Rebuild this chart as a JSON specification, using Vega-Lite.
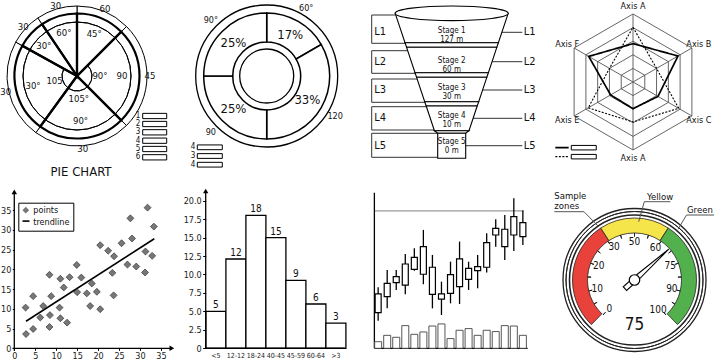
{
"$schema":"https://vega.github.io/schema/vega-lite/v6.json",
"padding":0,"spacing":0,"background":"white",
"config":{"view":{"stroke":null},"font":"'Liberation Sans Narrow', 'DejaVu Sans Condensed', 'Liberation Sans', sans-serif","concat":{"spacing":0},"text":{"color":"#111"}},
"datasets":{
"pie":[{"k":1,"v":45,"inn":"45°","out":"60","hub":""},{"k":2,"v":90,"inn":"90","out":"45","hub":"90°"},{"k":3,"v":81,"inn":"90°","out":"30","hub":"105°"},{"k":4,"v":83,"inn":"30°","out":"30","hub":"105"},{"k":5,"v":27,"inn":"30°","out":"30","hub":""},{"k":6,"v":34,"inn":"60°","out":"30","hub":""}],
"pieLeg":[{"n":"1","y":-40},{"n":"2","y":-48},{"n":"3","y":-56.3},{"n":"4","y":-64.7},{"n":"5","y":-73},{"n":"6","y":-81.3}],
"donut":[{"k":1,"v":60,"pct":"17%","out":"60°"},{"k":2,"v":120,"pct":"33%","out":"120"},{"k":3,"v":90,"pct":"25%","out":"90"},{"k":4,"v":90,"pct":"25%","out":"90°"}],
"donutLeg":[{"n":"4","y":-71.3},{"n":"3","y":-80},{"n":"4","y":-88.7}],
"funnel":[{"seg":"s1","y":13.3,"xl":-56.5,"xr":56.5},{"seg":"s1","y":42.7,"xl":-46.7,"xr":46.7},{"seg":"b1","y":42.7,"xl":-46.7,"xr":46.7},{"seg":"b1","y":47.3,"xl":-45.1,"xr":45.1},{"seg":"s2","y":47.3,"xl":-45.1,"xr":45.1},{"seg":"s2","y":72.7,"xl":-36.7,"xr":36.7},{"seg":"b2","y":72.7,"xl":-36.7,"xr":36.7},{"seg":"b2","y":77.3,"xl":-35.1,"xr":35.1},{"seg":"s3","y":77.3,"xl":-35.1,"xr":35.1},{"seg":"s3","y":101.7,"xl":-27,"xr":27},{"seg":"b3","y":101.7,"xl":-27,"xr":27},{"seg":"b3","y":106,"xl":-25.5,"xr":25.5},{"seg":"s4","y":106,"xl":-25.5,"xr":25.5},{"seg":"s4","y":130.7,"xl":-17.3,"xr":17.3},{"seg":"b4","y":130.7,"xl":-17.3,"xr":17.3},{"seg":"b4","y":133.3,"xl":-14,"xr":14},{"seg":"s5","y":133.3,"xl":-14,"xr":14},{"seg":"s5","y":158.3,"xl":-14,"xr":14}],
"levels":[{"L":"L1","y0":15,"y1":43.3,"ly":32.3},{"L":"L2","y0":50.7,"y1":73.3,"ly":61.7},{"L":"L3","y0":79,"y1":102.3,"ly":90},{"L":"L4","y0":106.7,"y1":130,"ly":118.3},{"L":"L5","y0":133.3,"y1":157.3,"ly":145.7}],
"stages":[{"t":"Stage 1\n127 m","y":31},{"t":"Stage 2\n60 m","y":60.5},{"t":"Stage 3\n30 m","y":88},{"t":"Stage 4\n10 m","y":115.5},{"t":"Stage 5\n0 m","y":142.3}],
"rings":[{"r":1},{"r":2},{"r":3},{"r":4},{"r":5}],
"radar":[{"s":"a","k":0,"v":2.82},{"s":"a","k":1,"v":3.82},{"s":"a","k":2,"v":2.12},{"s":"a","k":3,"v":1.96},{"s":"a","k":4,"v":1.9},{"s":"a","k":5,"v":3.76},{"s":"a","k":6,"v":2.82},{"s":"b","k":0,"v":4.02},{"s":"b","k":1,"v":2.0},{"s":"b","k":2,"v":3.88},{"s":"b","k":3,"v":2.94},{"s":"b","k":4,"v":3.8},{"s":"b","k":5,"v":2.0},{"s":"b","k":6,"v":4.02}],
"radarAxes":[{"k":0,"t":"Axis A"},{"k":1,"t":"Axis B"},{"k":2,"t":"Axis C"},{"k":3,"t":"Axis A"},{"k":4,"t":"Axis E"},{"k":5,"t":"Axis F"}],
"radarLeg":[{"s":"a","y":-4.83},{"s":"b","y":-5.49}],
"pts":[{"x":2.7,"y":10.3},{"x":2.8,"y":3.6},{"x":4.5,"y":13.2},{"x":4.5,"y":4.9},{"x":6.9,"y":10.7},{"x":6.2,"y":7.8},{"x":8.4,"y":18.6},{"x":8.8,"y":13.2},{"x":8.5,"y":8.4},{"x":8.4,"y":5.4},{"x":11.0,"y":17.6},{"x":11.8,"y":15.4},{"x":10.8,"y":10.3},{"x":11.0,"y":7.6},{"x":12.6,"y":6.5},{"x":13.2,"y":18.0},{"x":14.9,"y":21.1},{"x":15.0,"y":14.2},{"x":16.0,"y":17.9},{"x":17.3,"y":13.9},{"x":18.5,"y":16.4},{"x":18.1,"y":10.7},{"x":19.7,"y":14.3},{"x":20.5,"y":26.1},{"x":20.5,"y":9.9},{"x":22.4,"y":24.7},{"x":23.8,"y":23.3},{"x":23.4,"y":19.1},{"x":23.7,"y":13.4},{"x":25.6,"y":26.6},{"x":27.0,"y":21.2},{"x":27.7,"y":32.9},{"x":28.1,"y":27.8},{"x":29.1,"y":20.7},{"x":31.2,"y":19.2},{"x":31.3,"y":24.5},{"x":31.8,"y":35.6},{"x":32.9,"y":23.4},{"x":33.3,"y":30.8}],
"hist":[{"c":"<5","v":5,"lbl":"5"},{"c":"12-12","v":12.1,"lbl":"12"},{"c":"18-24","v":18,"lbl":"18"},{"c":"40-45","v":15,"lbl":"15"},{"c":"45-59","v":9.2,"lbl":"9"},{"c":"60-64","v":6,"lbl":"6"},{"c":">3","v":3.4,"lbl":"3"}],
"candles":[{"i":1,"o":41.9,"c":27.5,"h":47.0,"l":21.3,"vol":5.1},{"i":2,"o":50.1,"c":39.8,"h":60.4,"l":30.8,"vol":10.0},{"i":3,"o":55.3,"c":50.6,"h":60.4,"l":45.0,"vol":8.5},{"i":4,"o":65.0,"c":48.8,"h":72.8,"l":41.6,"vol":17.5},{"i":5,"o":70.2,"c":60.9,"h":77.1,"l":59.9,"vol":10.8},{"i":6,"o":78.4,"c":57.1,"h":91.3,"l":49.4,"vol":12.6},{"i":7,"o":62.5,"c":41.6,"h":72.0,"l":30.8,"vol":17.2},{"i":8,"o":41.9,"c":38.0,"h":51.4,"l":25.7,"vol":18.8},{"i":9,"o":56.8,"c":42.4,"h":66.8,"l":34.7,"vol":7.5},{"i":10,"o":68.9,"c":47.6,"h":82.3,"l":34.2,"vol":13.9},{"i":11,"o":61.7,"c":53.2,"h":66.8,"l":45.0,"vol":15.2},{"i":12,"o":63.0,"c":59.9,"h":72.0,"l":46.3,"vol":10.0},{"i":13,"o":81.5,"c":62.5,"h":88.7,"l":58.4,"vol":13.9},{"i":14,"o":92.5,"c":87.4,"h":99.5,"l":78.4,"vol":12.9},{"i":15,"o":91.8,"c":78.4,"h":102.8,"l":68.1,"vol":17.5},{"i":16,"o":101.5,"c":87.4,"h":115.7,"l":75.1,"vol":17.2},{"i":17,"o":96.9,"c":86.1,"h":106.2,"l":79.7,"vol":10.0}],
"zones":[{"z":"red","a0":-136,"a1":-33},{"z":"yellow","a0":-33,"a1":33},{"z":"green","a0":33,"a1":136}],
"gticks":[{"a":-138},{"a":-120.75},{"a":-103.5},{"a":-86.25},{"a":-69},{"a":-51.75},{"a":-34.5},{"a":-17.25},{"a":0},{"a":17.25},{"a":34.5},{"a":51.75},{"a":69},{"a":86.25},{"a":103.5},{"a":120.75},{"a":138}],
"glabels":[{"t":"0","a":-139},{"t":"10","a":-104},{"t":"20","a":-68},{"t":"30","a":-32},{"t":"50","a":0},{"t":"60","a":33},{"t":"75","a":68},{"t":"90","a":104},{"t":"100","a":142}],
"callTexts":[{"t":"Sample","x":-80.2,"y":84},{"t":"zones","x":-80.2,"y":74.3},{"t":"Yellow","x":12.5,"y":83.3},{"t":"Green","x":52.5,"y":70}],
"callLines":[{"x":-80.2,"y":68.3,"x2":-50.5,"y2":68.3},{"x":-50.5,"y":68.3,"x2":-35.8,"y2":53.3},{"x":9.8,"y":78.3,"x2":35.8,"y2":78.3},{"x":9.8,"y":78.3,"x2":4.2,"y2":58.3},{"x":52,"y":65,"x2":80.5,"y2":65},{"x":52,"y":65,"x2":43.5,"y2":50.7}]
},
"vconcat":[
{"hconcat":[
{"width":178,"height":180,
"layer":[
{"data":{"name":"pie"},
"transform":[{"stack":"v","groupby":[],"sort":[{"field":"k","order":"ascending"}],"as":["a0","a1"]},{"calculate":"(datum.a0+datum.a1)/2","as":"mid"}],
"layer":[
{"mark":{"type":"arc","radius":70,"fill":"white","stroke":"black","strokeWidth":1},
"encoding":{"x":{"datum":0,"type":"quantitative","scale":{"domain":[-76,102],"nice":false,"zero":false},"axis":null,"stack":null},"y":{"datum":0,"type":"quantitative","scale":{"domain":[-104,76],"nice":false,"zero":false},"axis":null,"stack":null},"theta":{"field":"a0","type":"quantitative","scale":{"domain":[0,360],"range":[0,6.28319]}},"theta2":{"field":"a1"}}},
{"mark":{"type":"arc","radius":62.5,"filled":false,"stroke":"black","strokeWidth":2.2},
"encoding":{"x":{"datum":0,"type":"quantitative","scale":{"domain":[-76,102],"nice":false,"zero":false},"axis":null,"stack":null},"y":{"datum":0,"type":"quantitative","scale":{"domain":[-104,76],"nice":false,"zero":false},"axis":null,"stack":null},"theta":{"field":"a0","type":"quantitative","scale":{"domain":[0,360],"range":[0,6.28319]}},"theta2":{"field":"a1"}}},
{"mark":{"type":"text","radius":45,"fontSize":9.5},
"encoding":{"x":{"datum":0,"type":"quantitative","scale":{"domain":[-76,102],"nice":false,"zero":false},"axis":null,"stack":null},"y":{"datum":0,"type":"quantitative","scale":{"domain":[-104,76],"nice":false,"zero":false},"axis":null,"stack":null},"theta":{"field":"mid","type":"quantitative","scale":{"domain":[0,360],"range":[0,6.28319]}},"text":{"field":"inn"}}},
{"mark":{"type":"text","radius":23,"fontSize":9.5},
"encoding":{"x":{"datum":0,"type":"quantitative","scale":{"domain":[-76,102],"nice":false,"zero":false},"axis":null,"stack":null},"y":{"datum":0,"type":"quantitative","scale":{"domain":[-104,76],"nice":false,"zero":false},"axis":null,"stack":null},"theta":{"field":"mid","type":"quantitative","scale":{"domain":[0,360],"range":[0,6.28319]}},"text":{"field":"hub"}}},
{"mark":{"type":"text","radius":73,"fontSize":9.5},
"encoding":{"x":{"datum":0,"type":"quantitative","scale":{"domain":[-76,102],"nice":false,"zero":false},"axis":null,"stack":null},"y":{"datum":0,"type":"quantitative","scale":{"domain":[-104,76],"nice":false,"zero":false},"axis":null,"stack":null},"theta":{"field":"mid","type":"quantitative","scale":{"domain":[0,360],"range":[0,6.28319]}},"text":{"field":"out"}}}
]},
{"data":{"values":[{}]},"mark":{"type":"arc","radius":54,"radius2":54,"theta":0,"theta2":6.28319,"filled":false,"stroke":"black","strokeWidth":1},
"encoding":{"x":{"datum":0,"type":"quantitative","scale":{"domain":[-76,102],"nice":false,"zero":false},"axis":null,"stack":null},"y":{"datum":0,"type":"quantitative","scale":{"domain":[-104,76],"nice":false,"zero":false},"axis":null,"stack":null}}},
{"data":{"values":[{}]},"mark":{"type":"arc","radius":15,"radius2":15,"theta":0.75,"theta2":5.2,"filled":false,"stroke":"black","strokeWidth":1},
"encoding":{"x":{"datum":0,"type":"quantitative","scale":{"domain":[-76,102],"nice":false,"zero":false},"axis":null,"stack":null},"y":{"datum":0,"type":"quantitative","scale":{"domain":[-104,76],"nice":false,"zero":false},"axis":null,"stack":null}}},
{"data":{"name":"pieLeg"},"mark":{"type":"point","shape":"M -1 -0.22 L 1 -0.22 L 1 0.22 L -1 0.22 Z","size":576,"filled":false,"stroke":"black","strokeWidth":1,"opacity":1},
"encoding":{"x":{"datum":77.7,"type":"quantitative","scale":{"domain":[-76,102],"nice":false,"zero":false},"axis":null},"y":{"field":"y","type":"quantitative","scale":{"domain":[-104,76],"nice":false,"zero":false},"axis":null}}},
{"data":{"name":"pieLeg"},"mark":{"type":"text","fontSize":8},
"encoding":{"x":{"datum":61,"type":"quantitative","scale":{"domain":[-76,102],"nice":false,"zero":false},"axis":null},"y":{"field":"y","type":"quantitative","scale":{"domain":[-104,76],"nice":false,"zero":false},"axis":null},"text":{"field":"n"}}},
{"data":{"values":[{}]},"mark":{"type":"text","text":"PIE CHART","fontSize":13},
"encoding":{"x":{"datum":4,"type":"quantitative","scale":{"domain":[-76,102],"nice":false,"zero":false},"axis":null},"y":{"datum":-96.3,"type":"quantitative","scale":{"domain":[-104,76],"nice":false,"zero":false},"axis":null}}}
]},
{"width":180,"height":180,
"layer":[
{"data":{"values":[{}]},"mark":{"type":"arc","radius":71,"radius2":71,"theta":0,"theta2":6.28319,"filled":false,"stroke":"black","strokeWidth":1.3},
"encoding":{"x":{"datum":0,"type":"quantitative","scale":{"domain":[-87.7,92.3],"nice":false,"zero":false},"axis":null,"stack":null},"y":{"datum":0,"type":"quantitative","scale":{"domain":[-104,76],"nice":false,"zero":false},"axis":null,"stack":null}}},
{"data":{"name":"donut"},
"transform":[{"stack":"v","groupby":[],"sort":[{"field":"k","order":"ascending"}],"as":["a0","a1"]},{"calculate":"(datum.a0+datum.a1)/2","as":"mid"}],
"layer":[
{"mark":{"type":"arc","radius":63,"radius2":34,"fill":"white","stroke":"black","strokeWidth":1.5},
"encoding":{"x":{"datum":0,"type":"quantitative","scale":{"domain":[-87.7,92.3],"nice":false,"zero":false},"axis":null,"stack":null},"y":{"datum":0,"type":"quantitative","scale":{"domain":[-104,76],"nice":false,"zero":false},"axis":null,"stack":null},"theta":{"field":"a0","type":"quantitative","scale":{"domain":[0,360],"range":[0,6.28319]}},"theta2":{"field":"a1"}}},
{"mark":{"type":"text","radius":47,"fontSize":13},
"encoding":{"x":{"datum":0,"type":"quantitative","scale":{"domain":[-87.7,92.3],"nice":false,"zero":false},"axis":null,"stack":null},"y":{"datum":0,"type":"quantitative","scale":{"domain":[-104,76],"nice":false,"zero":false},"axis":null,"stack":null},"theta":{"field":"mid","type":"quantitative","scale":{"domain":[0,360],"range":[0,6.28319]}},"text":{"field":"pct"}}},
{"mark":{"type":"text","radius":79,"fontSize":9},
"encoding":{"x":{"datum":0,"type":"quantitative","scale":{"domain":[-87.7,92.3],"nice":false,"zero":false},"axis":null,"stack":null},"y":{"datum":0,"type":"quantitative","scale":{"domain":[-104,76],"nice":false,"zero":false},"axis":null,"stack":null},"theta":{"field":"mid","type":"quantitative","scale":{"domain":[0,360],"range":[0,6.28319]}},"text":{"field":"out"}}}
]},
{"data":{"values":[{}]},"mark":{"type":"arc","radius":27,"radius2":27,"theta":0,"theta2":6.28319,"filled":false,"stroke":"black","strokeWidth":1.3},
"encoding":{"x":{"datum":0,"type":"quantitative","scale":{"domain":[-87.7,92.3],"nice":false,"zero":false},"axis":null,"stack":null},"y":{"datum":0,"type":"quantitative","scale":{"domain":[-104,76],"nice":false,"zero":false},"axis":null,"stack":null}}},
{"data":{"name":"donutLeg"},"mark":{"type":"point","shape":"M -1 -0.19 L 1 -0.19 L 1 0.19 L -1 0.19 Z","size":625,"filled":false,"stroke":"black","strokeWidth":1,"opacity":1},
"encoding":{"x":{"datum":-56.9,"type":"quantitative","scale":{"domain":[-87.7,92.3],"nice":false,"zero":false},"axis":null},"y":{"field":"y","type":"quantitative","scale":{"domain":[-104,76],"nice":false,"zero":false},"axis":null}}},
{"data":{"name":"donutLeg"},"mark":{"type":"text","fontSize":8},
"encoding":{"x":{"datum":-73.7,"type":"quantitative","scale":{"domain":[-87.7,92.3],"nice":false,"zero":false},"axis":null},"y":{"field":"y","type":"quantitative","scale":{"domain":[-104,76],"nice":false,"zero":false},"axis":null},"text":{"field":"n"}}}
]},
{"width":178,"height":180,
"layer":[
{"data":{"name":"levels"},"mark":{"type":"rule","color":"#333","strokeWidth":1},
"encoding":{"x":{"datum":-80,"type":"quantitative","scale":{"domain":[-92.7,85.3],"nice":false,"zero":false},"axis":null},"x2":{"datum":0},"y":{"field":"y0","type":"quantitative","scale":{"domain":[0,180],"reverse":true,"nice":false,"zero":false},"axis":null}}},
{"data":{"name":"levels"},"mark":{"type":"rule","color":"#333","strokeWidth":1},
"encoding":{"x":{"datum":-80,"type":"quantitative","scale":{"domain":[-92.7,85.3],"nice":false,"zero":false},"axis":null},"x2":{"datum":0},"y":{"field":"y1","type":"quantitative","scale":{"domain":[0,180],"reverse":true,"nice":false,"zero":false},"axis":null}}},
{"data":{"name":"levels"},"mark":{"type":"rule","color":"#333","strokeWidth":1},
"encoding":{"x":{"datum":-80,"type":"quantitative","scale":{"domain":[-92.7,85.3],"nice":false,"zero":false},"axis":null},"y":{"field":"y0","type":"quantitative","scale":{"domain":[0,180],"reverse":true,"nice":false,"zero":false},"axis":null},"y2":{"field":"y1"}}},
{"data":{"name":"levels"},"mark":{"type":"rule","color":"#333","strokeWidth":1},
"encoding":{"x":{"datum":0,"type":"quantitative","scale":{"domain":[-92.7,85.3],"nice":false,"zero":false},"axis":null},"x2":{"datum":70.6},"y":{"field":"ly","type":"quantitative","scale":{"domain":[0,180],"reverse":true,"nice":false,"zero":false},"axis":null}}},
{"data":{"name":"funnel"},"mark":{"type":"area","orient":"horizontal","fill":"white","stroke":"black","strokeWidth":1.1,"opacity":1,"fillOpacity":1},
"encoding":{"y":{"field":"y","type":"quantitative","scale":{"domain":[0,180],"reverse":true,"nice":false,"zero":false},"axis":null},"x":{"field":"xl","type":"quantitative","scale":{"domain":[-92.7,85.3],"nice":false,"zero":false},"axis":null,"stack":null},"x2":{"field":"xr"},"detail":{"field":"seg"}}},
{"data":{"values":[{}]},"mark":{"type":"point","shape":"M -1 0 C -1 -0.0718 -0.5523 -0.13 0 -0.13 C 0.5523 -0.13 1 -0.0718 1 0 C 1 0.0718 0.5523 0.13 0 0.13 C -0.5523 0.13 -1 0.0718 -1 0 Z","size":12769,"filled":true,"fill":"white","stroke":"black","strokeWidth":1.1,"opacity":1},
"encoding":{"x":{"datum":0,"type":"quantitative","scale":{"domain":[-92.7,85.3],"nice":false,"zero":false},"axis":null},"y":{"datum":13.3,"type":"quantitative","scale":{"domain":[0,180],"reverse":true,"nice":false,"zero":false},"axis":null}}},
{"data":{"name":"stages"},"mark":{"type":"text","fontSize":8,"lineBreak":"\n","lineHeight":9},
"encoding":{"x":{"datum":0,"type":"quantitative","scale":{"domain":[-92.7,85.3],"nice":false,"zero":false},"axis":null},"y":{"field":"y","type":"quantitative","scale":{"domain":[0,180],"reverse":true,"nice":false,"zero":false},"axis":null},"text":{"field":"t"}}},
{"data":{"name":"levels"},"mark":{"type":"text","fontSize":11,"align":"left"},
"encoding":{"x":{"datum":-77.5,"type":"quantitative","scale":{"domain":[-92.7,85.3],"nice":false,"zero":false},"axis":null},"y":{"field":"ly","type":"quantitative","scale":{"domain":[0,180],"reverse":true,"nice":false,"zero":false},"axis":null},"text":{"field":"L"}}},
{"data":{"name":"levels"},"mark":{"type":"text","fontSize":11,"align":"left"},
"encoding":{"x":{"datum":72,"type":"quantitative","scale":{"domain":[-92.7,85.3],"nice":false,"zero":false},"axis":null},"y":{"field":"ly","type":"quantitative","scale":{"domain":[0,180],"reverse":true,"nice":false,"zero":false},"axis":null},"text":{"field":"L"}}}
]},
{"width":178,"height":180,
"layer":[
{"data":{"name":"rings"},"mark":{"type":"point","shape":"M 0 -1 L 0.866 -0.5 L 0.866 0.5 L 0 1 L -0.866 0.5 L -0.866 -0.5 Z","filled":false,"stroke":"#555","strokeWidth":0.9,"opacity":1},
"encoding":{"x":{"datum":0,"type":"quantitative","scale":{"domain":[-7.059,6.029],"nice":false,"zero":false},"axis":null},"y":{"datum":0,"type":"quantitative","scale":{"domain":[-7.206,6.029],"nice":false,"zero":false},"axis":null},"size":{"field":"r","type":"quantitative","scale":{"type":"pow","exponent":2,"domain":[0,5],"range":[0,18496]},"legend":null}}},
{"data":{"values":[{}]},"mark":{"type":"point","shape":"M 0 -1 L 0 1 M -0.866 -0.5 L 0.866 0.5 M -0.866 0.5 L 0.866 -0.5","size":18496,"filled":false,"stroke":"#555","strokeWidth":0.9,"opacity":1},
"encoding":{"x":{"datum":0,"type":"quantitative","scale":{"domain":[-7.059,6.029],"nice":false,"zero":false},"axis":null},"y":{"datum":0,"type":"quantitative","scale":{"domain":[-7.206,6.029],"nice":false,"zero":false},"axis":null}}},
{"data":{"name":"radar"},"transform":[{"calculate":"datum.v*sin(datum.k*PI/3)","as":"px"},{"calculate":"datum.v*cos(datum.k*PI/3)","as":"py"}],
"mark":{"type":"line","color":"black"},
"encoding":{"x":{"field":"px","type":"quantitative","scale":{"domain":[-7.059,6.029],"nice":false,"zero":false},"axis":null},"y":{"field":"py","type":"quantitative","scale":{"domain":[-7.206,6.029],"nice":false,"zero":false},"axis":null},"order":{"field":"k"},"detail":{"field":"s"},"strokeDash":{"field":"s","type":"nominal","scale":{"domain":["a","b"],"range":[[1,0],[2,1.5]]},"legend":null},"strokeWidth":{"field":"s","type":"ordinal","scale":{"domain":["a","b"],"range":[1.7,1.1]},"legend":null}}},
{"data":{"name":"radarAxes"},"mark":{"type":"text","radius":76,"fontSize":9},
"encoding":{"x":{"datum":0,"type":"quantitative","scale":{"domain":[-7.059,6.029],"nice":false,"zero":false},"axis":null,"stack":null},"y":{"datum":0,"type":"quantitative","scale":{"domain":[-7.206,6.029],"nice":false,"zero":false},"axis":null,"stack":null},"theta":{"field":"k","type":"quantitative","scale":{"domain":[0,6],"range":[0,6.28319]}},"text":{"field":"t"}}},
{"data":{"name":"radarLeg"},"mark":{"type":"rule","color":"black"},
"encoding":{"x":{"datum":-5.71,"type":"quantitative","scale":{"domain":[-7.059,6.029],"nice":false,"zero":false},"axis":null},"x2":{"datum":-4.73},"y":{"field":"y","type":"quantitative","scale":{"domain":[-7.206,6.029],"nice":false,"zero":false},"axis":null},"strokeDash":{"field":"s","type":"nominal","scale":{"domain":["a","b"],"range":[[1,0],[2,1.5]]},"legend":null},"strokeWidth":{"field":"s","type":"ordinal","scale":{"domain":["a","b"],"range":[1.7,1.1]},"legend":null}}},
{"data":{"name":"radarLeg"},"mark":{"type":"point","shape":"M -1 -0.18 L 1 -0.18 L 1 0.18 L -1 0.18 Z","size":625,"filled":false,"stroke":"black","strokeWidth":1,"opacity":1},
"encoding":{"x":{"datum":-3.62,"type":"quantitative","scale":{"domain":[-7.059,6.029],"nice":false,"zero":false},"axis":null},"y":{"field":"y","type":"quantitative","scale":{"domain":[-7.206,6.029],"nice":false,"zero":false},"axis":null}}}
]}
],"spacing":0,"bounds":"flush"},
{"hconcat":[
{"width":178,"height":180,
"layer":[
{"data":{"values":[{}]},"mark":{"type":"rule","color":"black","strokeWidth":1.3},
"encoding":{"x":{"datum":0,"type":"quantitative","scale":{"domain":[-3.17,39.3],"nice":false,"zero":false},"axis":{"orient":"bottom","offset":-11.7,"values":[0,5,10,15,20,25,30,35],"domain":false,"grid":false,"tickSize":2,"tickColor":"black","labelPadding":1,"labelFontSize":9,"labelColor":"#222","title":null,"labelFlush":false}},"y":{"datum":-0.6,"type":"quantitative","scale":{"domain":[-2.96,42.6],"nice":false,"zero":false},"axis":{"orient":"left","offset":-13.3,"values":[0,5,10,15,20,25,30,35],"domain":false,"grid":false,"tickSize":2,"tickColor":"black","labelPadding":1.5,"labelFontSize":9,"labelColor":"#222","title":null,"labelFlush":false}},"y2":{"datum":39.3}}},
{"data":{"values":[{}]},"mark":{"type":"rule","color":"black","strokeWidth":1.3},
"encoding":{"x":{"datum":-0.4,"type":"quantitative","scale":{"domain":[-3.17,39.3],"nice":false,"zero":false},"axis":{"orient":"bottom","offset":-11.7,"values":[0,5,10,15,20,25,30,35],"domain":false,"grid":false,"tickSize":2,"tickColor":"black","labelPadding":1,"labelFontSize":9,"labelColor":"#222","title":null,"labelFlush":false}},"x2":{"datum":37.2},"y":{"datum":0,"type":"quantitative","scale":{"domain":[-2.96,42.6],"nice":false,"zero":false},"axis":{"orient":"left","offset":-13.3,"values":[0,5,10,15,20,25,30,35],"domain":false,"grid":false,"tickSize":2,"tickColor":"black","labelPadding":1.5,"labelFontSize":9,"labelColor":"#222","title":null,"labelFlush":false}}}},
{"data":{"values":[{}]},"mark":{"type":"point","shape":"triangle-up","size":30,"filled":true,"color":"black","opacity":1},
"encoding":{"x":{"datum":0,"type":"quantitative","scale":{"domain":[-3.17,39.3],"nice":false,"zero":false},"axis":{"orient":"bottom","offset":-11.7,"values":[0,5,10,15,20,25,30,35],"domain":false,"grid":false,"tickSize":2,"tickColor":"black","labelPadding":1,"labelFontSize":9,"labelColor":"#222","title":null,"labelFlush":false}},"y":{"datum":39.6,"type":"quantitative","scale":{"domain":[-2.96,42.6],"nice":false,"zero":false},"axis":{"orient":"left","offset":-13.3,"values":[0,5,10,15,20,25,30,35],"domain":false,"grid":false,"tickSize":2,"tickColor":"black","labelPadding":1.5,"labelFontSize":9,"labelColor":"#222","title":null,"labelFlush":false}}}},
{"data":{"values":[{}]},"mark":{"type":"point","shape":"triangle-right","size":30,"filled":true,"color":"black","opacity":1},
"encoding":{"x":{"datum":37.6,"type":"quantitative","scale":{"domain":[-3.17,39.3],"nice":false,"zero":false},"axis":{"orient":"bottom","offset":-11.7,"values":[0,5,10,15,20,25,30,35],"domain":false,"grid":false,"tickSize":2,"tickColor":"black","labelPadding":1,"labelFontSize":9,"labelColor":"#222","title":null,"labelFlush":false}},"y":{"datum":0,"type":"quantitative","scale":{"domain":[-2.96,42.6],"nice":false,"zero":false},"axis":{"orient":"left","offset":-13.3,"values":[0,5,10,15,20,25,30,35],"domain":false,"grid":false,"tickSize":2,"tickColor":"black","labelPadding":1.5,"labelFontSize":9,"labelColor":"#222","title":null,"labelFlush":false}}}},
{"data":{"name":"pts"},"transform":[{"regression":"y","on":"x","extent":[2.8,33.4]}],"mark":{"type":"line","color":"black","strokeWidth":1.6},
"encoding":{"x":{"field":"x","type":"quantitative","scale":{"domain":[-3.17,39.3],"nice":false,"zero":false},"axis":{"orient":"bottom","offset":-11.7,"values":[0,5,10,15,20,25,30,35],"domain":false,"grid":false,"tickSize":2,"tickColor":"black","labelPadding":1,"labelFontSize":9,"labelColor":"#222","title":null,"labelFlush":false}},"y":{"field":"y","type":"quantitative","scale":{"domain":[-2.96,42.6],"nice":false,"zero":false},"axis":{"orient":"left","offset":-13.3,"values":[0,5,10,15,20,25,30,35],"domain":false,"grid":false,"tickSize":2,"tickColor":"black","labelPadding":1.5,"labelFontSize":9,"labelColor":"#222","title":null,"labelFlush":false}}}},
{"data":{"name":"pts"},"mark":{"type":"point","filled":true,"fill":"#777","stroke":"#333","strokeWidth":0.7,"size":48,"opacity":1},
"encoding":{"x":{"field":"x","type":"quantitative","scale":{"domain":[-3.17,39.3],"nice":false,"zero":false},"axis":{"orient":"bottom","offset":-11.7,"values":[0,5,10,15,20,25,30,35],"domain":false,"grid":false,"tickSize":2,"tickColor":"black","labelPadding":1,"labelFontSize":9,"labelColor":"#222","title":null,"labelFlush":false}},
"y":{"field":"y","type":"quantitative","scale":{"domain":[-2.96,42.6],"nice":false,"zero":false},"axis":{"orient":"left","offset":-13.3,"values":[0,5,10,15,20,25,30,35],"domain":false,"grid":false,"tickSize":2,"tickColor":"black","labelPadding":1.5,"labelFontSize":9,"labelColor":"#222","title":null,"labelFlush":false}},
"shape":{"datum":"points","type":"nominal","scale":{"domain":["points","trendline"],"range":["diamond","stroke"]},"legend":{"orient":"none","legendX":17.3,"legendY":202.7,"title":null,"strokeColor":"black","padding":3,"rowPadding":1,"labelFontSize":9,"labelColor":"#111","symbolSize":45,"symbolFillColor":"#777","symbolStrokeColor":"#222","symbolStrokeWidth":1.3,"labelOffset":3}}}},
{"data":{"values":[{}]},"mark":{"type":"rule","color":"black","strokeWidth":1.6},
"encoding":{"x":{"datum":1.96,"type":"quantitative","scale":{"domain":[-3.17,39.3],"nice":false,"zero":false},"axis":{"orient":"bottom","offset":-11.7,"values":[0,5,10,15,20,25,30,35],"domain":false,"grid":false,"tickSize":2,"tickColor":"black","labelPadding":1,"labelFontSize":9,"labelColor":"#222","title":null,"labelFlush":false}},"x2":{"datum":3.63},"y":{"datum":32.2,"type":"quantitative","scale":{"domain":[-2.96,42.6],"nice":false,"zero":false},"axis":{"orient":"left","offset":-13.3,"values":[0,5,10,15,20,25,30,35],"domain":false,"grid":false,"tickSize":2,"tickColor":"black","labelPadding":1.5,"labelFontSize":9,"labelColor":"#222","title":null,"labelFlush":false}}}}
]},
{"width":180,"height":180,
"resolve":{"scale":{"x":"independent"}},
"layer":[
{"data":{"name":"hist"},"mark":{"type":"bar","fill":"white","stroke":"black","strokeWidth":1.3},
"encoding":{"x":{"field":"c","type":"nominal","sort":null,"scale":{"type":"band","domain":["<5","12-12","18-24","40-45","45-59","60-64",">3"],"paddingInner":0,"paddingOuter":1.118,"align":0.6725},"axis":{"orient":"bottom","offset":-11.7,"domain":false,"ticks":false,"labelPadding":3,"labelFontSize":7,"labelAngle":0,"title":null,"labelColor":"#222","labelOverlap":false,"grid":false}},
"y":{"field":"v","type":"quantitative","scale":{"domain":[-1.585,22.8],"nice":false,"zero":false},"axis":{"orient":"left","offset":-26.7,"values":[0,2.5,5,7.5,10,12.5,15,17.5,20],"labelExpr":"datum.value == 0 ? '0' : format(datum.value, '.1f')","domain":false,"grid":false,"tickSize":3,"tickColor":"black","labelPadding":1.5,"labelFontSize":9,"title":null,"labelColor":"#222"}}}},
{"data":{"name":"hist"},"mark":{"type":"text","dy":-6,"fontSize":10},
"encoding":{"x":{"field":"c","type":"nominal","sort":null,"scale":{"type":"band","domain":["<5","12-12","18-24","40-45","45-59","60-64",">3"],"paddingInner":0,"paddingOuter":1.118,"align":0.6725},"axis":null},
"y":{"field":"v","type":"quantitative","scale":{"domain":[-1.585,22.8],"nice":false,"zero":false},"axis":{"orient":"left","offset":-26.7,"values":[0,2.5,5,7.5,10,12.5,15,17.5,20],"labelExpr":"datum.value == 0 ? '0' : format(datum.value, '.1f')","domain":false,"grid":false,"tickSize":3,"tickColor":"black","labelPadding":1.5,"labelFontSize":9,"title":null,"labelColor":"#222"}},"text":{"field":"lbl"}}},
{"data":{"values":[{}]},"mark":{"type":"rule","color":"black","strokeWidth":1.3},
"encoding":{"x":{"datum":-0.133,"type":"quantitative","scale":{"domain":[-1.503,7.732],"nice":false,"zero":false},"axis":null},"y":{"datum":0,"type":"quantitative","scale":{"domain":[-1.585,22.8],"nice":false,"zero":false},"axis":{"orient":"left","offset":-26.7,"values":[0,2.5,5,7.5,10,12.5,15,17.5,20],"labelExpr":"datum.value == 0 ? '0' : format(datum.value, '.1f')","domain":false,"grid":false,"tickSize":3,"tickColor":"black","labelPadding":1.5,"labelFontSize":9,"title":null,"labelColor":"#222"}},"y2":{"datum":21.04}}},
{"data":{"values":[{}]},"mark":{"type":"rule","color":"black","strokeWidth":1.4},
"encoding":{"x":{"datum":-0.133,"type":"quantitative","scale":{"domain":[-1.503,7.732],"nice":false,"zero":false},"axis":null},"x2":{"datum":7},"y":{"datum":0,"type":"quantitative","scale":{"domain":[-1.585,22.8],"nice":false,"zero":false},"axis":{"orient":"left","offset":-26.7,"values":[0,2.5,5,7.5,10,12.5,15,17.5,20],"labelExpr":"datum.value == 0 ? '0' : format(datum.value, '.1f')","domain":false,"grid":false,"tickSize":3,"tickColor":"black","labelPadding":1.5,"labelFontSize":9,"title":null,"labelColor":"#222"}}}},
{"data":{"values":[{}]},"mark":{"type":"point","shape":"triangle-up","size":28,"filled":true,"color":"black","opacity":1},
"encoding":{"x":{"datum":-0.133,"type":"quantitative","scale":{"domain":[-1.503,7.732],"nice":false,"zero":false},"axis":null},"y":{"datum":21.3,"type":"quantitative","scale":{"domain":[-1.585,22.8],"nice":false,"zero":false},"axis":{"orient":"left","offset":-26.7,"values":[0,2.5,5,7.5,10,12.5,15,17.5,20],"labelExpr":"datum.value == 0 ? '0' : format(datum.value, '.1f')","domain":false,"grid":false,"tickSize":3,"tickColor":"black","labelPadding":1.5,"labelFontSize":9,"title":null,"labelColor":"#222"}}}}
]},
{"width":178,"height":180,
"layer":[
{"data":{"values":[{}]},"mark":{"type":"rule","color":"#999","strokeWidth":1.2},
"encoding":{"x":{"datum":0.583,"type":"quantitative","scale":{"domain":[-0.565,18.01],"nice":false,"zero":false},"axis":null},"x2":{"datum":17.1},"y":{"datum":106,"type":"quantitative","scale":{"domain":[-9.02,129.8],"nice":false,"zero":false},"axis":null}}},
{"data":{"values":[{}]},"mark":{"type":"rule","color":"black","strokeWidth":1.3},
"encoding":{"x":{"datum":0.583,"type":"quantitative","scale":{"domain":[-0.565,18.01],"nice":false,"zero":false},"axis":null},"y":{"datum":0,"type":"quantitative","scale":{"domain":[-9.02,129.8],"nice":false,"zero":false},"axis":null},"y2":{"datum":120}}},
{"data":{"values":[{}]},"mark":{"type":"rule","color":"black","strokeWidth":1.3},
"encoding":{"x":{"datum":0.583,"type":"quantitative","scale":{"domain":[-0.565,18.01],"nice":false,"zero":false},"axis":null},"x2":{"datum":17.52},"y":{"datum":0,"type":"quantitative","scale":{"domain":[-9.02,129.8],"nice":false,"zero":false},"axis":null}}},
{"data":{"name":"candles"},"mark":{"type":"bar","width":7,"fill":"white","stroke":"#444","strokeWidth":0.9},
"encoding":{"x":{"field":"i","type":"quantitative","scale":{"domain":[-0.565,18.01],"nice":false,"zero":false},"axis":null},"y":{"field":"vol","type":"quantitative","scale":{"domain":[-9.02,129.8],"nice":false,"zero":false},"axis":null},"y2":{"datum":0}}},
{"data":{"name":"candles"},"mark":{"type":"rule","color":"black","strokeWidth":1.3},
"encoding":{"x":{"field":"i","type":"quantitative","scale":{"domain":[-0.565,18.01],"nice":false,"zero":false},"axis":null},"y":{"field":"l","type":"quantitative","scale":{"domain":[-9.02,129.8],"nice":false,"zero":false},"axis":null},"y2":{"field":"h"}}},
{"data":{"name":"candles"},"mark":{"type":"bar","width":6,"fill":"white","stroke":"black","strokeWidth":1.2},
"encoding":{"x":{"field":"i","type":"quantitative","scale":{"domain":[-0.565,18.01],"nice":false,"zero":false},"axis":null},"y":{"field":"o","type":"quantitative","scale":{"domain":[-9.02,129.8],"nice":false,"zero":false},"axis":null},"y2":{"field":"c"}}}
]},
{"width":178,"height":180,
"layer":[
{"data":{"values":[{}]},"mark":{"type":"arc","radius":71.5,"radius2":71.5,"theta":0,"theta2":6.28319,"filled":false,"stroke":"#222","strokeWidth":1.3},
"encoding":{"x":{"datum":0,"type":"quantitative","scale":{"domain":[-97.5,80.5],"nice":false,"zero":false},"axis":null,"stack":null},"y":{"datum":0,"type":"quantitative","scale":{"domain":[-80,100],"nice":false,"zero":false},"axis":null,"stack":null}}},
{"data":{"values":[{}]},"mark":{"type":"arc","radius":68.5,"radius2":68.5,"theta":0,"theta2":6.28319,"filled":false,"stroke":"#222","strokeWidth":1},
"encoding":{"x":{"datum":0,"type":"quantitative","scale":{"domain":[-97.5,80.5],"nice":false,"zero":false},"axis":null,"stack":null},"y":{"datum":0,"type":"quantitative","scale":{"domain":[-80,100],"nice":false,"zero":false},"axis":null,"stack":null}}},
{"data":{"values":[{}]},"mark":{"type":"arc","radius":65,"radius2":65,"theta":0,"theta2":6.28319,"filled":false,"stroke":"#222","strokeWidth":1.6},
"encoding":{"x":{"datum":0,"type":"quantitative","scale":{"domain":[-97.5,80.5],"nice":false,"zero":false},"axis":null,"stack":null},"y":{"datum":0,"type":"quantitative","scale":{"domain":[-80,100],"nice":false,"zero":false},"axis":null,"stack":null}}},
{"data":{"name":"zones"},"mark":{"type":"arc","radius":62,"radius2":47,"stroke":"#222","strokeWidth":0.8,"opacity":1},
"encoding":{"x":{"datum":0,"type":"quantitative","scale":{"domain":[-97.5,80.5],"nice":false,"zero":false},"axis":null,"stack":null},"y":{"datum":0,"type":"quantitative","scale":{"domain":[-80,100],"nice":false,"zero":false},"axis":null,"stack":null},"theta":{"field":"a0","type":"quantitative","scale":{"domain":[0,360],"range":[0,6.28319]}},"theta2":{"field":"a1"},"fill":{"field":"z","type":"nominal","scale":{"domain":["red","yellow","green"],"range":["#e8423a","#f6e54a","#53b14d"]},"legend":null}}},
{"data":{"name":"gticks"},"mark":{"type":"arc","radius":47,"radius2":43.5,"filled":false,"stroke":"#222","strokeWidth":1},
"encoding":{"x":{"datum":0,"type":"quantitative","scale":{"domain":[-97.5,80.5],"nice":false,"zero":false},"axis":null,"stack":null},"y":{"datum":0,"type":"quantitative","scale":{"domain":[-80,100],"nice":false,"zero":false},"axis":null,"stack":null},"theta":{"field":"a","type":"quantitative","scale":{"domain":[0,360],"range":[0,6.28319]}},"theta2":{"field":"a"}}},
{"data":{"name":"glabels"},"mark":{"type":"text","radius":38.5,"fontSize":10},
"encoding":{"x":{"datum":0,"type":"quantitative","scale":{"domain":[-97.5,80.5],"nice":false,"zero":false},"axis":null,"stack":null},"y":{"datum":0,"type":"quantitative","scale":{"domain":[-80,100],"nice":false,"zero":false},"axis":null,"stack":null},"theta":{"field":"a","type":"quantitative","scale":{"domain":[0,360],"range":[0,6.28319]}},"text":{"field":"t"}}},
{"data":{"values":[{}]},"mark":{"type":"point","shape":"M -0.06 0 L 0 -1 L 0.06 0 L 0.055 0 L 0.055 0.28 L -0.055 0.28 L -0.055 0 Z","size":8464,"angle":48,"filled":true,"fill":"white","stroke":"black","strokeWidth":1.1,"opacity":1},
"encoding":{"x":{"datum":0,"type":"quantitative","scale":{"domain":[-97.5,80.5],"nice":false,"zero":false},"axis":null},"y":{"datum":0,"type":"quantitative","scale":{"domain":[-80,100],"nice":false,"zero":false},"axis":null}}},
{"data":{"values":[{}]},"mark":{"type":"point","shape":"circle","size":110,"filled":true,"fill":"white","stroke":"black","strokeWidth":1.2,"opacity":1},
"encoding":{"x":{"datum":0,"type":"quantitative","scale":{"domain":[-97.5,80.5],"nice":false,"zero":false},"axis":null},"y":{"datum":0,"type":"quantitative","scale":{"domain":[-80,100],"nice":false,"zero":false},"axis":null}}},
{"data":{"values":[{}]},"mark":{"type":"text","text":"75","fontSize":17},
"encoding":{"x":{"datum":0,"type":"quantitative","scale":{"domain":[-97.5,80.5],"nice":false,"zero":false},"axis":null},"y":{"datum":-45,"type":"quantitative","scale":{"domain":[-80,100],"nice":false,"zero":false},"axis":null}}},
{"data":{"name":"callLines"},"mark":{"type":"rule","color":"#555","strokeWidth":1},
"encoding":{"x":{"field":"x","type":"quantitative","scale":{"domain":[-97.5,80.5],"nice":false,"zero":false},"axis":null},"y":{"field":"y","type":"quantitative","scale":{"domain":[-80,100],"nice":false,"zero":false},"axis":null},"x2":{"field":"x2"},"y2":{"field":"y2"}}},
{"data":{"name":"callTexts"},"mark":{"type":"text","align":"left","fontSize":9.5},
"encoding":{"x":{"field":"x","type":"quantitative","scale":{"domain":[-97.5,80.5],"nice":false,"zero":false},"axis":null},"y":{"field":"y","type":"quantitative","scale":{"domain":[-80,100],"nice":false,"zero":false},"axis":null},"text":{"field":"t"}}}
]}
],"spacing":0,"bounds":"flush"}
]
}
